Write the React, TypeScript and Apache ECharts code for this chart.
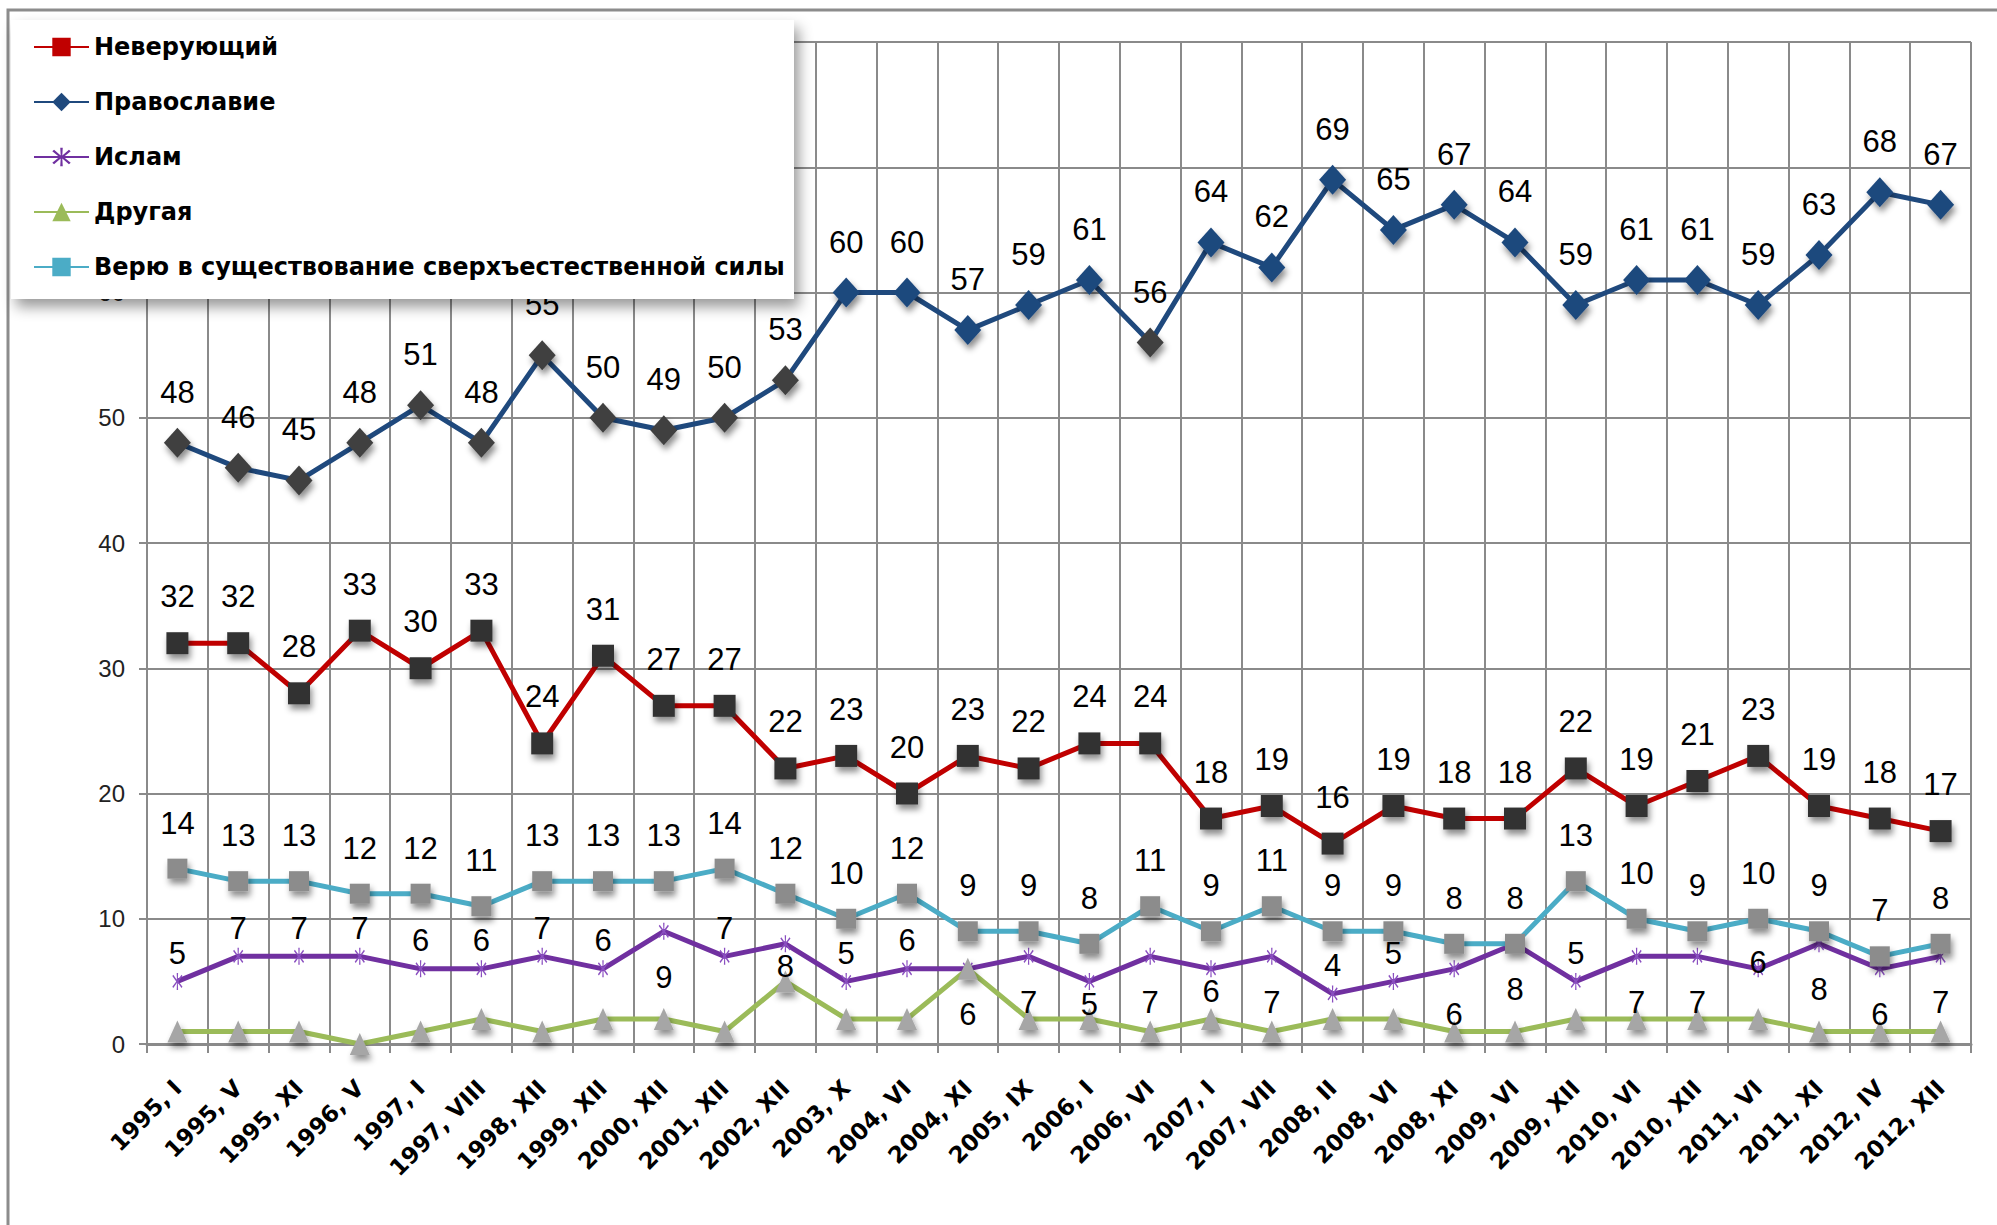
import React, { useEffect, useRef } from "react";
import * as echarts from "echarts";

const categories = [
  "1995, I", "1995, V", "1995, XI", "1996, V", "1997, I", "1997, VIII", "1998, XII", "1999, XII",
  "2000, XII", "2001, XII", "2002, XII", "2003, X", "2004, VI", "2004, XI", "2005, IX", "2006, I",
  "2006, VI", "2007, I", "2007, VII", "2008, II", "2008, VI", "2008, XI", "2009, VI", "2009, XII",
  "2010, VI", "2010, XII", "2011, VI", "2011, XI", "2012, IV", "2012, XII",
];

const nonBelievers = [32, 32, 28, 33, 30, 33, 24, 31, 27, 27, 22, 23, 20, 23, 22, 24, 24, 18, 19, 16, 19, 18, 18, 22, 19, 21, 23, 19, 18, 17];
const orthodoxy = [48, 46, 45, 48, 51, 48, 55, 50, 49, 50, 53, 60, 60, 57, 59, 61, 56, 64, 62, 69, 65, 67, 64, 59, 61, 61, 59, 63, 68, 67];
const islam = [5, 7, 7, 7, 6, 6, 7, 6, 9, 7, 8, 5, 6, 6, 7, 5, 7, 6, 7, 4, 5, 6, 8, 5, 7, 7, 6, 8, 6, 7];
const other = [1, 1, 1, 0, 1, 2, 1, 2, 2, 1, 5, 2, 2, 6, 2, 2, 1, 2, 1, 2, 2, 1, 1, 2, 2, 2, 2, 1, 1, 1];
const supernatural = [14, 13, 13, 12, 12, 11, 13, 13, 13, 14, 12, 10, 12, 9, 9, 8, 11, 9, 11, 9, 9, 8, 8, 13, 10, 9, 10, 9, 7, 8];

const seriesNames = [
  "Неверующий",
  "Православие",
  "Ислам",
  "Другая",
  "Верю в существование сверхъестественной силы",
];

const yMin = 0;
const yMax = 80;
const yInterval = 10;

// styling helpers (not data)
const orthodoxyGrayMarkers = [0, 1, 2, 3, 4, 5, 6, 7, 8, 9, 10, 16];
const islamLabelPos = [
  "top", "top", "top", "top", "top", "top", "top", "top", "bottom", "top",
  "close", "top", "top", "bottom", "bottom", "close", "bottom", "close", "bottom", "top",
  "top", "bottom", "bottom", "top", "bottom", "bottom", "inside", "bottom", "bottom", "bottom",
];

function asteriskPath(): string {
  const rays = [0, 45, 135, 180, 225, 315];
  const pts: string[] = [];
  const pt = (a: number, r: number) => {
    const rad = (a * Math.PI) / 180;
    return `${(r * Math.sin(rad)).toFixed(2)},${(-r * Math.cos(rad)).toFixed(2)}`;
  };
  for (let i = 0; i < rays.length; i++) {
    const a = rays[i];
    const next = i + 1 < rays.length ? rays[i + 1] : rays[0] + 360;
    pts.push(pt(a - 6, 10));
    pts.push(pt(a + 6, 10));
    pts.push(pt((a + next) / 2, 1.8));
  }
  return "path://M" + pts.join(" L") + " Z";
}

const LABEL_FONT = "'Liberation Sans', Arial, sans-serif";
const GRID_COLOR = "#8a8a8a";
const markerShadow = {
  shadowBlur: 6,
  shadowOffsetX: 2,
  shadowOffsetY: 5,
  shadowColor: "rgba(0,0,0,0.45)",
};

export default function App() {
  const ref = useRef<HTMLDivElement>(null);

  useEffect(() => {
    document.body.style.margin = "0";
    document.body.style.overflow = "hidden";
    if (!ref.current) return;
    const chart = echarts.init(ref.current, undefined, { renderer: "svg" });

    const labelBase = {
      show: true,
      position: "top",
      distance: 20,
      color: "#000",
      fontFamily: LABEL_FONT,
      fontSize: 31,
    };

    const option: any = {
      animation: false,
      backgroundColor: "#ffffff",
      grid: { left: 147, right: 26, top: 42, bottom: 181, containLabel: false },
      graphic: [
        {
          type: "rect",
          silent: true,
          z: -1,
          shape: { x: 8, y: 10, width: 2200, height: 1400 },
          style: { fill: "none", stroke: "#8c8c8c", lineWidth: 3 },
        },
        {
          type: "rect",
          silent: true,
          z: 10,
          shape: { x: 11, y: 20, width: 783, height: 279 },
          style: {
            fill: "#ffffff",
            shadowBlur: 14,
            shadowOffsetX: 5,
            shadowOffsetY: 8,
            shadowColor: "rgba(0,0,0,0.4)",
          },
        },
      ],
      legend: {
        z: 20,
        orient: "vertical",
        left: 33,
        top: 34,
        itemWidth: 55,
        itemHeight: 23,
        itemGap: 29,
        padding: 0,
        textStyle: {
          fontFamily: "'DejaVu Sans', sans-serif",
          fontWeight: "bold",
          fontSize: 24,
          lineHeight: 26,
          color: "#000",
        },
        data: [
          { name: seriesNames[0], itemStyle: { color: "#c00000" } },
          { name: seriesNames[1], itemStyle: { color: "#1f497d" } },
          { name: seriesNames[2], itemStyle: { color: "#7030a0" } },
          { name: seriesNames[3], itemStyle: { color: "#9bbb59" } },
          { name: seriesNames[4], itemStyle: { color: "#4bacc6" } },
        ],
      },
      xAxis: {
        type: "category",
        data: categories,
        boundaryGap: true,
        axisLine: { show: true, lineStyle: { color: GRID_COLOR, width: 3 } },
        axisTick: { show: true, length: 9, lineStyle: { color: GRID_COLOR, width: 2 } },
        splitLine: { show: true, lineStyle: { color: GRID_COLOR, width: 2 } },
        axisLabel: {
          interval: 0,
          rotate: 45,
          margin: 40,
          color: "#000",
          fontFamily: "'DejaVu Sans', sans-serif",
          fontWeight: "bold",
          fontSize: 23,
        },
      },
      yAxis: {
        type: "value",
        min: yMin,
        max: yMax,
        interval: yInterval,
        axisLine: { show: true, lineStyle: { color: GRID_COLOR, width: 2 } },
        axisTick: { show: true, length: 8, lineStyle: { color: GRID_COLOR, width: 2 } },
        splitLine: { show: true, lineStyle: { color: GRID_COLOR, width: 2 } },
        axisLabel: {
          margin: 22,
          color: "#222",
          fontFamily: LABEL_FONT,
          fontSize: 24,
          // 70 and 80 sit fully under the legend box in the reference
          formatter: (v: number) => (v >= 70 ? "" : String(v)),
        },
      },
      series: [
        {
          name: seriesNames[0],
          type: "line",
          data: nonBelievers,
          symbol: "rect",
          symbolSize: 22,
          lineStyle: { color: "#c00000", width: 5 },
          itemStyle: { color: "#333333", ...markerShadow },
          label: { ...labelBase },
        },
        {
          name: seriesNames[1],
          type: "line",
          data: orthodoxy.map((v, i) => ({
            value: v,
            itemStyle: { color: orthodoxyGrayMarkers.includes(i) ? "#404040" : "#1f497d" },
          })),
          symbol: "diamond",
          symbolSize: [27, 30],
          lineStyle: { color: "#1f497d", width: 5 },
          itemStyle: { color: "#1f497d", ...markerShadow },
          label: { ...labelBase, distance: 20 },
        },
        {
          name: seriesNames[2],
          type: "line",
          data: islam.map((v, i) => {
            const p = islamLabelPos[i];
            let label: any;
            if (p === "top") label = { position: "top", distance: 4 };
            else if (p === "bottom") label = { position: "bottom", distance: 22 };
            else if (p === "close") label = { position: "inside", offset: [0, 23] };
            else label = { position: "inside", offset: [0, -6] };
            return { value: v, label };
          }),
          symbol: asteriskPath(),
          symbolSize: [13, 17],
          symbolKeepAspect: true,
          lineStyle: { color: "#7030a0", width: 5 },
          itemStyle: { color: "#8a4fc0" },
          label: { ...labelBase },
        },
        {
          name: seriesNames[3],
          type: "line",
          data: other,
          symbol: "triangle",
          symbolSize: [20, 22],
          lineStyle: { color: "#9bbb59", width: 5 },
          itemStyle: { color: "#a6a6a6", ...markerShadow },
          label: { show: false },
        },
        {
          name: seriesNames[4],
          type: "line",
          data: supernatural,
          symbol: "rect",
          symbolSize: 20,
          lineStyle: { color: "#4bacc6", width: 5 },
          itemStyle: { color: "#8c8c8c", ...markerShadow },
          label: { ...labelBase },
        },
      ],
    };

    chart.setOption(option);
    return () => chart.dispose();
  }, []);

  return <div ref={ref} style={{ width: 1997, height: 1225 }} />;
}
